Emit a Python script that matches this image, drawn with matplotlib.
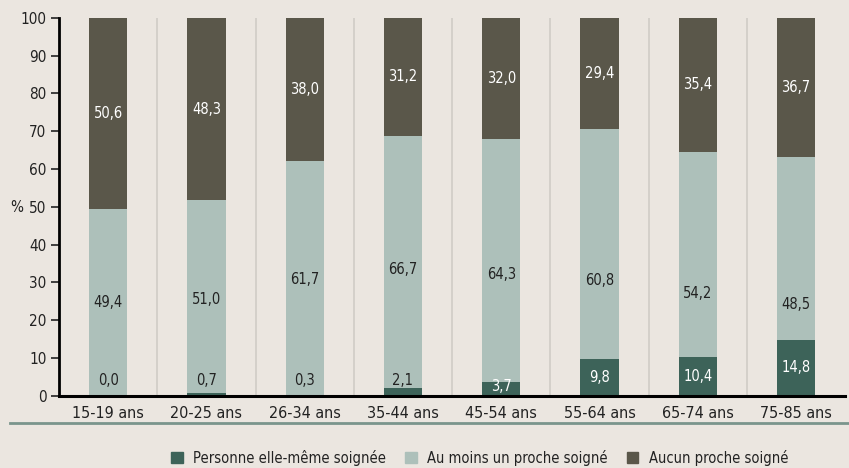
import matplotlib.pyplot as plt
import numpy as np

# data
groupes = ["15-19 ans", "20-25 ans", "26-34 ans", "35-44 ans",
           "45-54 ans", "55-64 ans", "65-74 ans", "75-85 ans"]
soignee = [0.0, 0.7, 0.3, 2.1, 3.7, 9.8, 10.4, 14.8]
proche = [49.4, 51.0, 61.7, 66.7, 64.3, 60.8, 54.2, 48.5]
aucun = [50.6, 48.3, 38.0, 31.2, 32.0, 29.4, 35.4, 36.7]
yticks = list(range(0, 101, 10))
legend_labels = ["Personne elle-même soignée", "Au moins un proche soigné", "Aucun proche soigné"]

plt.rcParams["font.family"] = ["DejaVu Sans"]
plt.rcParams["font.stretch"] = "condensed"

BG = "#ebe6e0"
C_SOIGNEE = "#3d6359"
C_PROCHE = "#adc0ba"
C_AUCUN = "#5a574a"
TXT = "#222222"


def fmt(v):
    return f"{v:.1f}".replace(".", ",")


fig = plt.figure(figsize=(8.49, 4.68), dpi=100, facecolor=BG)
ax = fig.add_axes([0.0695, 0.154, 0.926, 0.808], facecolor=BG)

x = np.arange(len(groupes))
s = np.array(soignee)
p = np.array(proche)
a = np.array(aucun)
w = 0.39

ax.bar(x, s, w, color=C_SOIGNEE, zorder=3)
ax.bar(x, p, w, bottom=s, color=C_PROCHE, zorder=3)
ax.bar(x, a, w, bottom=s + p, color=C_AUCUN, zorder=3)

# separators between age groups
for xs in x[:-1] + 0.5:
    ax.axvline(xs, color="#d0ccc6", lw=1.2, zorder=1)

for i in range(len(groupes)):
    # own care: white inside the bar when tall enough, dark above it otherwise
    if s[i] >= 3:
        ax.text(x[i], max(s[i] / 2, 2.6), fmt(s[i]), ha="center", va="center",
                color="white", fontsize=10.5, zorder=4)
    else:
        ax.text(x[i], 4.2, fmt(s[i]), ha="center", va="center",
                color=TXT, fontsize=10.5, zorder=4)
    ax.text(x[i], p[i] / 2, fmt(p[i]), ha="center", va="center",
            color=TXT, fontsize=10.5, zorder=4)
    ax.text(x[i], s[i] + p[i] + a[i] / 2, fmt(a[i]), ha="center", va="center",
            color="white", fontsize=10.5, zorder=4)

ax.set_xlim(-0.5, len(groupes) - 0.5)
ax.set_ylim(0, 100)
ax.set_yticks(yticks)
ax.set_xticks(x)
ax.set_xticklabels(groupes, fontsize=11.5, color=TXT)
ax.tick_params(axis="y", labelsize=11, colors=TXT, length=6, width=1.2, pad=3)
ax.tick_params(axis="x", length=0, pad=7)
for side in ["top", "right"]:
    ax.spines[side].set_visible(False)
ax.spines["left"].set_linewidth(2)
ax.spines["bottom"].set_linewidth(2.2)
ax.spines["left"].set_zorder(5)
ax.spines["bottom"].set_zorder(5)

fig.text(0.012, 0.556, "%", fontsize=11, color=TXT, va="center", ha="left")

# green rule above the legend
fig.add_artist(plt.Line2D([0.012, 1.0], [0.096, 0.096], color="#7a958c", lw=2))

handles = [plt.Rectangle((0, 0), 1, 1, color=c) for c in (C_SOIGNEE, C_PROCHE, C_AUCUN)]
fig.legend(handles, legend_labels, loc="center", bbox_to_anchor=(0.565, 0.022),
           ncol=3, frameon=False, fontsize=10.5, handlelength=0.8, handleheight=0.8,
           handletextpad=0.7, columnspacing=1.3, labelcolor=TXT)

fig.savefig("out.png", dpi=100, facecolor=BG)
